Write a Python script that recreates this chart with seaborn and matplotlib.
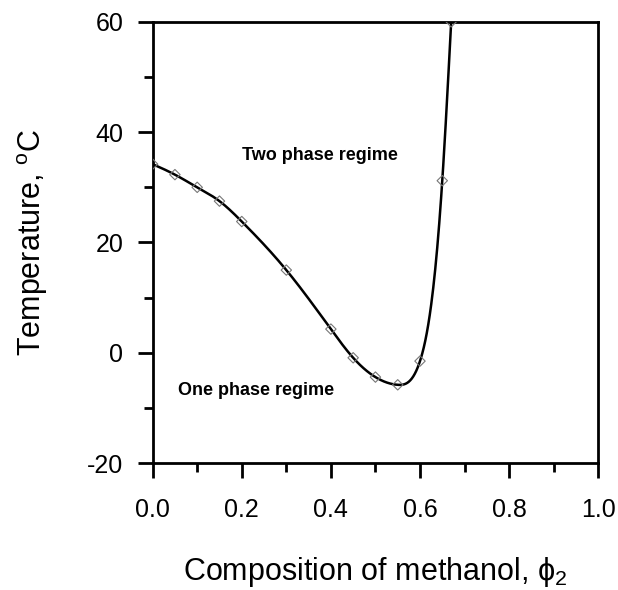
import numpy as np
import pandas as pd
import matplotlib
matplotlib.use("Agg")
import matplotlib.pyplot as plt
import seaborn as sns
from matplotlib.ticker import MultipleLocator

# data
phi2 = [0.0, 0.05, 0.10, 0.15, 0.20, 0.30, 0.40, 0.45, 0.50, 0.55, 0.60, 0.65, 0.67]
temp = [34.2, 32.3, 30.0, 27.5, 23.8, 15.0, 4.3, -0.9, -4.4, -5.8, -1.5, 31.2, 60.0]

x_ticks = [0.0, 0.2, 0.4, 0.6, 0.8, 1.0]
x_ticklabels = ["0.0", "0.2", "0.4", "0.6", "0.8", "1.0"]
y_ticks = [-20, 0, 20, 40, 60]
y_ticklabels = ["-20", "0", "20", "40", "60"]


def natural_spline(x, y, xs):
    x = np.asarray(x, float); y = np.asarray(y, float)
    n = len(x)
    h = np.diff(x)
    A = np.zeros((n, n)); b = np.zeros(n)
    A[0, 0] = 1; A[-1, -1] = 1
    for i in range(1, n - 1):
        A[i, i - 1] = h[i - 1]
        A[i, i] = 2 * (h[i - 1] + h[i])
        A[i, i + 1] = h[i]
        b[i] = 3 * ((y[i + 1] - y[i]) / h[i] - (y[i] - y[i - 1]) / h[i - 1])
    c = np.linalg.solve(A, b)
    bb = np.zeros(n - 1); d = np.zeros(n - 1)
    for i in range(n - 1):
        bb[i] = (y[i + 1] - y[i]) / h[i] - h[i] * (2 * c[i] + c[i + 1]) / 3
        d[i] = (c[i + 1] - c[i]) / (3 * h[i])
    idx = np.clip(np.searchsorted(x, xs) - 1, 0, n - 2)
    dx = xs - x[idx]
    return y[idx] + bb[idx] * dx + c[idx] * dx ** 2 + d[idx] * dx ** 3


sns.set_style("ticks")
plt.rcParams["font.family"] = ["Liberation Sans", "DejaVu Sans"]
plt.rcParams["mathtext.fontset"] = "custom"
plt.rcParams["mathtext.rm"] = "Liberation Sans"
plt.rcParams["mathtext.it"] = "DejaVu Serif"
plt.rcParams["text.color"] = "black"
plt.rcParams["axes.labelcolor"] = "black"
plt.rcParams["xtick.color"] = "black"
plt.rcParams["ytick.color"] = "black"

fig = plt.figure(figsize=(6.18, 5.90), dpi=100)
ax = fig.add_axes([0.247, 0.215, 0.721, 0.748])

xs = np.linspace(phi2[0], phi2[-1], 600)
curve = pd.DataFrame({"phi2": xs, "T": natural_spline(phi2, temp, xs)})
pts = pd.DataFrame({"phi2": phi2, "T": temp})

sns.lineplot(data=curve, x="phi2", y="T", ax=ax, color="black", linewidth=1.8,
             sort=False, estimator=None)
sns.scatterplot(data=pts, x="phi2", y="T", ax=ax, marker="D", s=28,
                facecolor="none", edgecolor="#777777", linewidth=0.8, zorder=3)

ax.set_xlim(0, 1.0)
ax.set_ylim(-20, 60)
ax.set_xticks(x_ticks)
ax.set_xticklabels(x_ticklabels)
ax.set_yticks(y_ticks)
ax.set_yticklabels(y_ticklabels)
ax.xaxis.set_minor_locator(MultipleLocator(0.1))
ax.yaxis.set_minor_locator(MultipleLocator(10))

ax.tick_params(which="major", direction="out", length=11, width=2,
               labelsize=18, color="black", labelcolor="black")
ax.tick_params(which="minor", direction="out", length=6.5, width=2, color="black")
ax.tick_params(axis="x", which="major", pad=14)
ax.tick_params(axis="y", which="major", pad=10)
for s in ax.spines.values():
    s.set_linewidth(2)
    s.set_color("black")
    s.set_visible(True)

ax.set_xlabel("Composition of methanol, ϕ$_{2}$", fontsize=22, labelpad=24,
              color="black")
ax.set_ylabel(r"Temperature, $^{\rm o}$C", fontsize=22, labelpad=27,
              color="black")

ax.text(0.2, 35.7, "Two phase regime", fontsize=13, fontweight="bold",
        ha="left", va="center", color="black")
ax.text(0.057, -6.8, "One phase regime", fontsize=13, fontweight="bold",
        ha="left", va="center", color="black")

fig.savefig("out.png", dpi=100, facecolor="white")
